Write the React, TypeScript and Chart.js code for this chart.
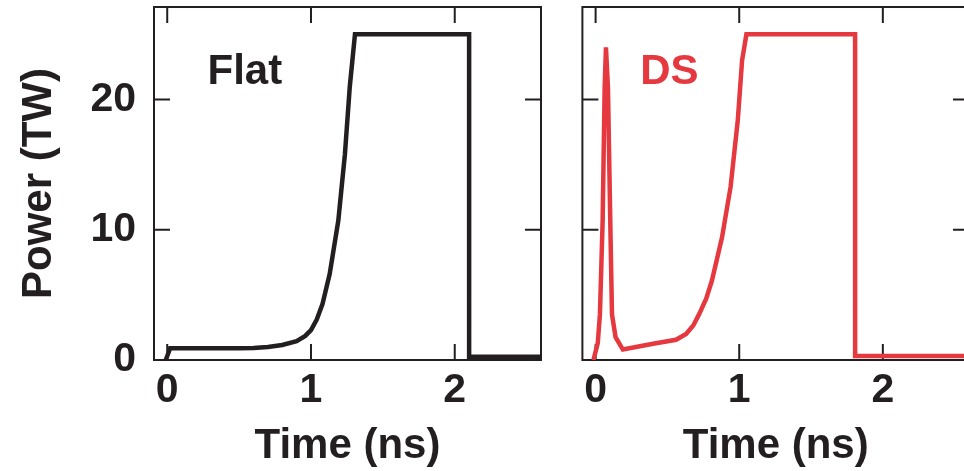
import React, { useEffect, useRef } from "react";
import { Chart, registerables } from "chart.js";

Chart.register(...registerables);

// ---- data ----
const flatTime = [-0.01, 0.02, 0.1, 0.3, 0.5, 0.6, 0.7, 0.8, 0.9, 0.96, 1.0, 1.04, 1.08, 1.13, 1.19, 1.236, 1.27, 1.306, 2.1, 2.1, 2.6];
const flatPower = [0, 0.9, 0.9, 0.9, 0.9, 0.93, 1.0, 1.15, 1.45, 1.85, 2.3, 3.1, 4.3, 6.6, 10.7, 15.8, 21.0, 25.0, 25.0, 0.25, 0.25];

const dsTime = [-0.015, 0.015, 0.03, 0.049, 0.063, 0.072, 0.086, 0.102, 0.114, 0.139, 0.19, 0.4, 0.56, 0.63, 0.68, 0.72, 0.77, 0.81, 0.88, 0.94, 0.99, 1.02, 1.05, 1.807, 1.807, 2.6];
const dsPower = [0, 1.3, 3.5, 10.7, 20.9, 24.0, 20.9, 10.7, 3.5, 1.75, 0.8, 1.25, 1.55, 2.0, 2.65, 3.5, 4.7, 6.1, 9.4, 13.3, 18.4, 23.0, 25.0, 25.0, 0.3, 0.3];

const xTickValues = [0, 1, 2];
const yTickValues = [0, 10, 20];
const xMin = -0.092;
const xMax = 2.6;
const yMin = 0;
const yMax = 27.1;

const INK = "#231f20";
const RED = "#e5383f";
const FONT = "'Liberation Sans', Arial, Helvetica, sans-serif";

Chart.defaults.font.family = FONT;

const framePlugin = {
  id: "frame",
  beforeDatasetsDraw(chart: any) {
    const { ctx, chartArea: a, scales } = chart;
    const x = scales.x;
    const y = scales.y;
    ctx.save();
    ctx.strokeStyle = INK;
    ctx.lineWidth = 2;
    ctx.strokeRect(a.left, a.top, a.right - a.left, a.bottom - a.top);
    const len = 16;
    ctx.beginPath();
    for (const v of xTickValues) {
      const px = x.getPixelForValue(v);
      ctx.moveTo(px, a.bottom);
      ctx.lineTo(px, a.bottom - len);
      ctx.moveTo(px, a.top);
      ctx.lineTo(px, a.top + len);
    }
    for (const v of yTickValues) {
      if (v === 0) continue;
      const py = y.getPixelForValue(v);
      ctx.moveTo(a.left, py);
      ctx.lineTo(a.left + len, py);
      ctx.moveTo(a.right, py);
      ctx.lineTo(a.right - len, py);
    }
    ctx.stroke();
    ctx.restore();
  },
  afterDraw(chart: any) {
    const { ctx, scales } = chart;
    const opt = chart.options.plugins.frame;
    if (!opt || !opt.text) return;
    ctx.save();
    ctx.fillStyle = opt.color;
    ctx.font = `bold 42px ${FONT}`;
    ctx.textAlign = "left";
    ctx.textBaseline = "alphabetic";
    ctx.fillText(opt.text, scales.x.getPixelForValue(opt.x), scales.y.getPixelForValue(opt.y));
    ctx.restore();
  },
};

function makeConfig(times: number[], powers: number[], color: string, label: any, showY: boolean, padding: any) {
  return {
    type: "line",
    data: {
      datasets: [
        {
          data: times.map((t, i) => ({ x: t, y: powers[i] })),
          borderColor: color,
          borderWidth: 4.5,
          pointRadius: 0,
          tension: 0,
          fill: false,
          borderJoinStyle: "miter",
        },
      ],
    },
    options: {
      animation: false,
      responsive: false,
      maintainAspectRatio: false,
      layout: { padding },
      plugins: {
        legend: { display: false },
        tooltip: { enabled: false },
        frame: label,
      },
      scales: {
        x: {
          type: "linear",
          min: xMin,
          max: xMax,
          afterBuildTicks: (s: any) => {
            s.ticks = xTickValues.map((v) => ({ value: v }));
          },
          afterFit: (s: any) => {
            s.height = 111;
            s.paddingLeft = 0;
            s.paddingRight = 0;
          },
          grid: { display: false, drawTicks: false, tickLength: 0 },
          border: { display: false },
          ticks: {
            color: INK,
            font: { size: 41, weight: "bold" },
            padding: 6,
            maxRotation: 0,
            autoSkip: false,
            callback: (v: any) => String(v),
          },
          title: {
            display: true,
            text: "Time (ns)",
            color: INK,
            font: { size: 42, weight: "bold", lineHeight: 1.15 },
            padding: { top: 0, bottom: 0 },
          },
        },
        y: {
          type: "linear",
          display: showY,
          min: yMin,
          max: yMax,
          afterBuildTicks: (s: any) => {
            s.ticks = yTickValues.map((v) => ({ value: v }));
          },
          afterFit: (s: any) => {
            if (showY) s.width = 154;
            s.paddingTop = 0;
            s.paddingBottom = 0;
          },
          grid: { display: false, drawTicks: false, tickLength: 0 },
          border: { display: false },
          ticks: {
            color: INK,
            font: { size: 41, weight: "bold" },
            padding: 18,
            callback: (v: any) => String(v),
          },
          title: {
            display: true,
            text: "Power (TW)",
            color: INK,
            font: { size: 42, weight: "bold", lineHeight: 1.2 },
            padding: { top: 14, bottom: 0 },
          },
        },
      },
    },
    plugins: [framePlugin],
  } as any;
}

export default function App() {
  const leftRef = useRef<HTMLCanvasElement | null>(null);
  const rightRef = useRef<HTMLCanvasElement | null>(null);

  useEffect(() => {
    const left = new Chart(
      leftRef.current as HTMLCanvasElement,
      makeConfig(flatTime, flatPower, INK, { text: "Flat", color: INK, x: 0.28, y: 21.2 }, true, { top: 7, right: 19, left: 0, bottom: 0 })
    );
    const right = new Chart(
      rightRef.current as HTMLCanvasElement,
      makeConfig(dsTime, dsPower, RED, { text: "DS", color: RED, x: 0.31, y: 21.2 }, false, { top: 7, right: 11, left: 22.4, bottom: 0 })
    );
    return () => {
      left.destroy();
      right.destroy();
    };
  }, []);

  return (
    <div style={{ position: "absolute", left: 0, top: 0, width: 964, height: 471, overflow: "hidden", background: "#ffffff" }}>
      <canvas ref={leftRef} width={560} height={471} style={{ position: "absolute", left: 0, top: 0, width: 560, height: 471 }} />
      <canvas ref={rightRef} width={420} height={471} style={{ position: "absolute", left: 560, top: 0, width: 420, height: 471 }} />
    </div>
  );
}
